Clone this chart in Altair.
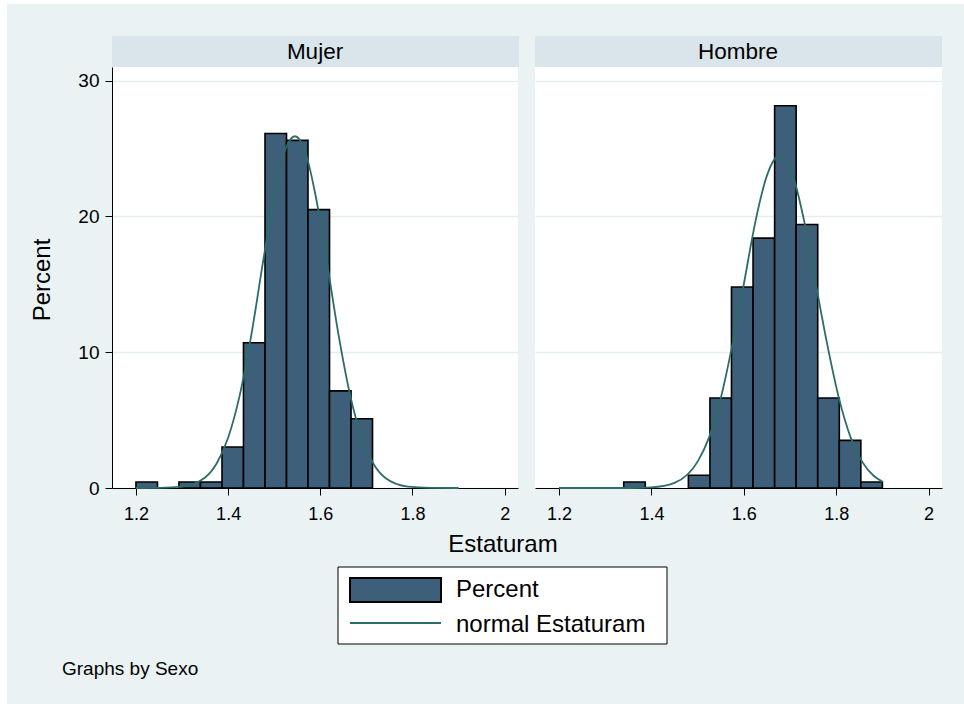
import altair as alt
import pandas as pd

# ---- data ----
bin_edges = [1.2, 1.2467, 1.2933, 1.34, 1.3867, 1.4333, 1.48, 1.5267, 1.5733,
             1.62, 1.6667, 1.7133, 1.76, 1.8067, 1.8533, 1.9]
mujer_pct = [0.44, 0, 0.44, 0.44, 3.02, 10.7, 26.1, 25.6, 20.5, 7.15, 5.1, 0, 0, 0, 0]
hombre_pct = [0, 0, 0, 0.44, 0, 0, 0.94, 6.63, 14.8, 18.4, 28.15, 19.4, 6.63, 3.51, 0.44]

mujer_curve_x = [1.2, 1.25, 1.3, 1.35, 1.375, 1.4, 1.425, 1.45, 1.475, 1.5, 1.525, 1.545,
                 1.565, 1.59, 1.615, 1.64, 1.665, 1.69, 1.715, 1.74, 1.79, 1.84, 1.9]
mujer_curve_y = [0, 0.01, 0.1, 0.77, 1.8, 3.7, 6.8, 11.2, 16.5, 21.5, 25.0, 25.9,
                 25.0, 21.5, 16.5, 11.2, 6.8, 3.7, 1.8, 0.77, 0.1, 0.01, 0]
hombre_curve_x = [1.2, 1.3, 1.35, 1.4, 1.45, 1.5, 1.525, 1.55, 1.575, 1.6, 1.625, 1.65, 1.678,
                  1.706, 1.731, 1.756, 1.781, 1.806, 1.831, 1.856, 1.881, 1.9]
hombre_curve_y = [0, 0, 0, 0.05, 0.38, 1.94, 3.75, 6.6, 10.5, 15.0, 19.6, 23.0, 24.5,
                  23.0, 19.6, 15.0, 10.5, 6.6, 3.75, 1.94, 0.9, 0.47]

panels = ["Mujer", "Hombre"]
x_ticks = [1.2, 1.4, 1.6, 1.8, 2]
y_ticks = [0, 10, 20, 30]

# ---- styles ----
FONT = "Liberation Sans"
BAR = "#3E5F7A"
CURVE = "#2C6D68"
BG = "#EAF2F3"
STRIP = "#D9E5EA"
GRID = "#E3ECEF"
W, H = 406, 421

xscale = alt.Scale(domain=[1.148, 2.029], nice=False, zero=False)
yscale = alt.Scale(domain=[0, 31.0], nice=False, zero=False)

xaxis = alt.Axis(values=x_ticks, format="~g", title=None, grid=False,
                 domainColor="black", domainWidth=1, tickColor="black", tickSize=7,
                 tickWidth=1, labelPadding=10, labelFontSize=18, labelFont=FONT,
                 labelColor="black", labelOverlap=False)


def yaxis(show):
    if show:
        return alt.Axis(values=y_ticks, title=None, grid=True, gridColor=GRID, gridWidth=1.5,
                        domainColor="black", domainWidth=1, tickColor="black", tickSize=7,
                        tickWidth=1, labelPadding=6, labelFontSize=19, labelFont=FONT,
                        labelColor="black", labelAngle=0)
    return alt.Axis(values=y_ticks, title=None, grid=True, gridColor=GRID, gridWidth=1.5,
                    domain=False, ticks=False, labels=False)


one = pd.DataFrame({"a": [0]})


def rect_px(x1, x2, y1, y2, **kw):
    return alt.Chart(one).mark_rect(**kw).encode(
        x=alt.value(x1), x2=alt.value(x2), y=alt.value(y1), y2=alt.value(y2))


def text_px(txt, x, y, **kw):
    return alt.Chart(pd.DataFrame({"t": [txt]})).mark_text(font=FONT, color="black", **kw).encode(
        x=alt.value(x), y=alt.value(y), text="t:N")


def panel(name, pct, cx, cy, first):
    bars = pd.DataFrame({"lo": bin_edges[:-1], "hi": bin_edges[1:], "pct": pct})
    bars = bars[bars["pct"] > 0]
    curve = pd.DataFrame({"x": cx, "y": cy})
    layers = []
    if first:
        # invisible frame for the full page and the thin white border
        layers.append(rect_px(-112, 852, -67, 637, fill="white", fillOpacity=0, strokeOpacity=0))
        layers.append(rect_px(-112, -105, -67, 637, fill="white"))
        layers.append(rect_px(-112, 852, -67, -63, fill="white"))
    b = alt.Chart(bars).mark_rect(fill=BAR, stroke="black", strokeWidth=1.6).encode(
        x=alt.X("lo:Q", scale=xscale, axis=xaxis),
        x2="hi:Q",
        y=alt.Y("pct:Q", scale=yscale, axis=yaxis(first)),
        y2=alt.datum(0),
    )
    ln = alt.Chart(curve).mark_line(color=CURVE, strokeWidth=1.8, interpolate="monotone").encode(
        x=alt.X("x:Q", scale=xscale), y=alt.Y("y:Q", scale=yscale))
    layers += [b, ln]
    # strip header
    layers.append(rect_px(0, W + 1, -31, 0, fill=STRIP))
    layers.append(text_px(name, W / 2, -15, fontSize=22.5, align="center", baseline="middle"))
    if first:
        layers.append(text_px("Percent", -69, 213, fontSize=24, align="center",
                              baseline="middle", angle=270))
        layers.append(text_px("Estaturam", 391, 485, fontSize=24, align="center",
                              baseline="alphabetic"))
        # legend
        layers.append(rect_px(226, 555, 500, 577, fill="white", stroke="black", strokeWidth=1))
        layers.append(rect_px(238, 329, 511, 535, fill=BAR, stroke="black", strokeWidth=2))
        layers.append(alt.Chart(one).mark_rule(color=CURVE, strokeWidth=2).encode(
            x=alt.value(238), x2=alt.value(329), y=alt.value(556)))
        layers.append(text_px("Percent", 344, 530, fontSize=24, align="left", baseline="alphabetic"))
        layers.append(text_px("normal Estaturam", 344, 565, fontSize=24, align="left",
                              baseline="alphabetic"))
        layers.append(text_px("Graphs by Sexo", -50, 608, fontSize=19, align="left",
                              baseline="alphabetic"))
    return alt.layer(*layers).properties(width=W if first else W + 1, height=H)


left = panel(panels[0], mujer_pct, mujer_curve_x, mujer_curve_y, True)
right = panel(panels[1], hombre_pct, hombre_curve_x, hombre_curve_y, False)

chart = alt.hconcat(left, right, spacing=17, bounds="flush").properties(
    padding=0, background=BG, autosize=alt.AutoSizeParams(type="pad")
).configure_view(stroke=None, fill="white")

chart.save("out.html", embed_options={"renderer": "svg", "actions": False})
